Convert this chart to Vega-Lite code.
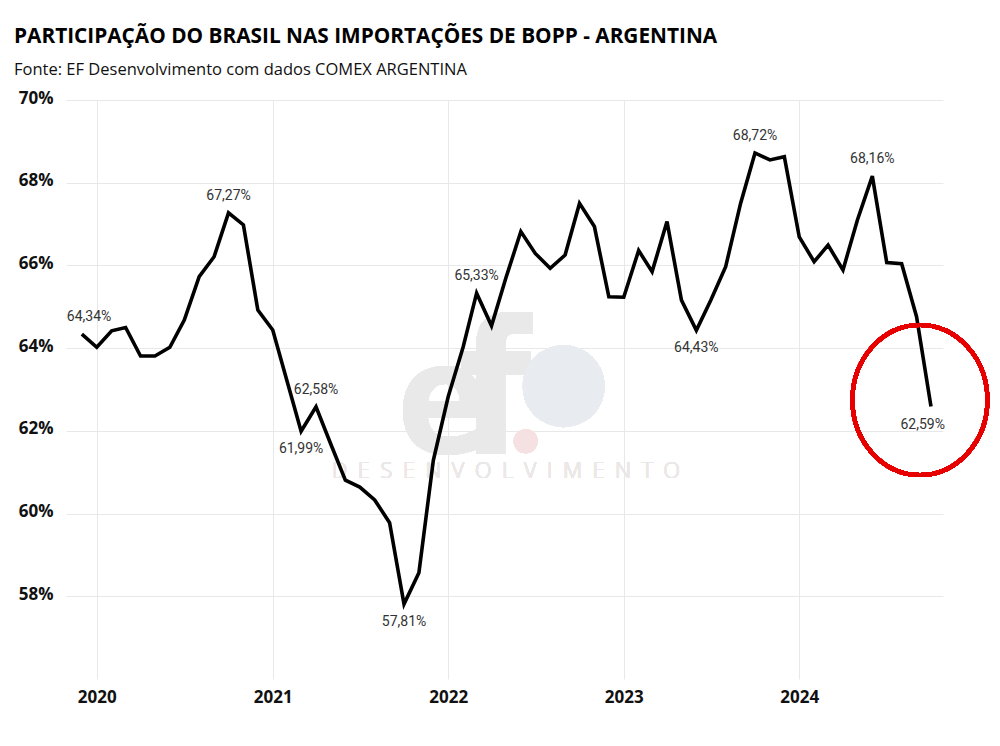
{
  "$schema": "https://vega.github.io/schema/vega-lite/v6.json",
  "width": 877,
  "height": 579,
  "autosize": "none",
  "padding": {"left": 66, "top": 100, "right": 57, "bottom": 67},
  "background": "white",
  "title": {
    "text": "PARTICIPAÇÃO DO BRASIL NAS IMPORTAÇÕES DE BOPP - ARGENTINA",
    "subtitle": "Fonte: EF Desenvolvimento com dados COMEX ARGENTINA",
    "anchor": "start",
    "frame": "group",
    "dx": -52,
    "offset": 10,
    "font": "Open Sans",
    "fontSize": 20.8,
    "fontWeight": "bold",
    "color": "#000000",
    "subtitleFont": "Open Sans",
    "subtitleFontSize": 16.5,
    "subtitleColor": "#111111",
    "subtitlePadding": 14
  },
  "data": {
    "values": [
      {"date": "2019-12-01", "share": 64.34, "label": "64,34%", "pos": "first"},
      {"date": "2020-01-01", "share": 64.02},
      {"date": "2020-02-01", "share": 64.42},
      {"date": "2020-03-01", "share": 64.50},
      {"date": "2020-04-01", "share": 63.81},
      {"date": "2020-05-01", "share": 63.81},
      {"date": "2020-06-01", "share": 64.02},
      {"date": "2020-07-01", "share": 64.68},
      {"date": "2020-08-01", "share": 65.73},
      {"date": "2020-09-01", "share": 66.21},
      {"date": "2020-10-01", "share": 67.27, "label": "67,27%", "pos": "above"},
      {"date": "2020-11-01", "share": 66.98},
      {"date": "2020-12-01", "share": 64.92},
      {"date": "2021-01-01", "share": 64.44},
      {"date": "2021-02-01", "share": 63.15},
      {"date": "2021-03-01", "share": 61.99, "label": "61,99%", "pos": "below"},
      {"date": "2021-04-01", "share": 62.58, "label": "62,58%", "pos": "above"},
      {"date": "2021-05-01", "share": 61.70},
      {"date": "2021-06-01", "share": 60.81},
      {"date": "2021-07-01", "share": 60.64},
      {"date": "2021-08-01", "share": 60.33},
      {"date": "2021-09-01", "share": 59.78},
      {"date": "2021-10-01", "share": 57.81, "label": "57,81%", "pos": "below"},
      {"date": "2021-11-01", "share": 58.57},
      {"date": "2021-12-01", "share": 61.29},
      {"date": "2022-01-01", "share": 62.83},
      {"date": "2022-02-01", "share": 64.03},
      {"date": "2022-03-01", "share": 65.33, "label": "65,33%", "pos": "above"},
      {"date": "2022-04-01", "share": 64.54},
      {"date": "2022-05-01", "share": 65.70},
      {"date": "2022-06-01", "share": 66.82},
      {"date": "2022-07-01", "share": 66.29},
      {"date": "2022-08-01", "share": 65.93},
      {"date": "2022-09-01", "share": 66.25},
      {"date": "2022-10-01", "share": 67.50},
      {"date": "2022-11-01", "share": 66.94},
      {"date": "2022-12-01", "share": 65.24},
      {"date": "2023-01-01", "share": 65.23},
      {"date": "2023-02-01", "share": 66.36},
      {"date": "2023-03-01", "share": 65.85},
      {"date": "2023-04-01", "share": 67.06},
      {"date": "2023-05-01", "share": 65.16},
      {"date": "2023-06-01", "share": 64.43, "label": "64,43%", "pos": "below"},
      {"date": "2023-07-01", "share": 65.16},
      {"date": "2023-08-01", "share": 65.97},
      {"date": "2023-09-01", "share": 67.50},
      {"date": "2023-10-01", "share": 68.72, "label": "68,72%", "pos": "above"},
      {"date": "2023-11-01", "share": 68.55},
      {"date": "2023-12-01", "share": 68.63},
      {"date": "2024-01-01", "share": 66.69},
      {"date": "2024-02-01", "share": 66.09},
      {"date": "2024-03-01", "share": 66.49},
      {"date": "2024-04-01", "share": 65.89},
      {"date": "2024-05-01", "share": 67.10},
      {"date": "2024-06-01", "share": 68.16, "label": "68,16%", "pos": "above"},
      {"date": "2024-07-01", "share": 66.07},
      {"date": "2024-08-01", "share": 66.04},
      {"date": "2024-09-01", "share": 64.76},
      {"date": "2024-10-01", "share": 62.59, "label": "62,59%", "pos": "last"}
    ],
    "format": {"parse": {"date": "utc:'%Y-%m-%d'"}}
  },
  "encoding": {
    "x": {
      "field": "date",
      "type": "temporal",
      "title": null,
      "scale": {
        "type": "utc",
        "domain": [
          {"year": 2019, "month": 10, "date": 29, "utc": true},
          {"year": 2024, "month": 10, "date": 26, "utc": true}
        ]
      },
      "axis": {
        "format": "%Y",
        "tickCount": {"interval": "year", "step": 1},
        "domain": false,
        "ticks": false,
        "grid": true,
        "gridColor": "#e8e8e8",
        "gridWidth": 1,
        "labelFont": "Open Sans",
        "labelFontSize": 17,
        "labelFontWeight": "bold",
        "labelColor": "#111111",
        "labelPadding": 10,
        "labelFlush": false
      }
    },
    "y": {
      "field": "share",
      "type": "quantitative",
      "title": null,
      "scale": {"domain": [56, 70], "nice": false, "zero": false},
      "axis": {
        "values": [58, 60, 62, 64, 66, 68, 70],
        "labelExpr": "datum.value + '%'",
        "domain": false,
        "ticks": false,
        "grid": true,
        "gridColor": "#e8e8e8",
        "gridWidth": 1,
        "labelFont": "Open Sans",
        "labelFontSize": 17,
        "labelFontWeight": "bold",
        "labelColor": "#111111",
        "labelPadding": 13,
        "labelOffset": -2
      }
    }
  },
  "layer": [
    {
      "mark": {"type": "text", "text": "e", "font": "DejaVu Sans Condensed", "fontWeight": "bold", "fontSize": 155, "color": "#e9e9e9", "baseline": "alphabetic", "align": "center"},
      "encoding": {
        "x": {"datum": {"year": 2021, "month": 12, "date": 24, "utc": true}, "type": "temporal"},
        "y": {"datum": 61.46, "type": "quantitative"}
      }
    },
    {
      "mark": {"type": "text", "text": "f", "font": "DejaVu Sans Condensed", "fontWeight": "bold", "fontSize": 185, "color": "#e9e9e9", "baseline": "alphabetic", "align": "center"},
      "encoding": {
        "x": {"datum": {"year": 2022, "month": 4, "date": 8, "utc": true}, "type": "temporal"},
        "y": {"datum": 61.46, "type": "quantitative"}
      }
    },
    {
      "mark": {"type": "point", "shape": "circle", "filled": true, "size": 6724, "color": "#e8ecf0", "opacity": 1},
      "encoding": {
        "x": {"datum": {"year": 2022, "month": 8, "date": 29, "utc": true}, "type": "temporal"},
        "y": {"datum": 63.08, "type": "quantitative"}
      }
    },
    {
      "mark": {"type": "point", "shape": "circle", "filled": true, "size": 576, "color": "#f5e1e1", "opacity": 1},
      "encoding": {
        "x": {"datum": {"year": 2022, "month": 6, "date": 11, "utc": true}, "type": "temporal"},
        "y": {"datum": 61.75, "type": "quantitative"}
      }
    },
    {
      "mark": {"type": "text", "text": "D\u2002E\u2002S\u2002E\u2002N\u2002V\u2002O\u2002L\u2002V\u2002I\u2002M\u2002E\u2002N\u2002T\u2002O", "font": "Open Sans", "fontWeight": 300, "fontSize": 21.5, "color": "#ece8e8", "baseline": "middle", "align": "center"},
      "encoding": {
        "x": {"datum": {"year": 2022, "month": 5, "date": 1, "utc": true}, "type": "temporal"},
        "y": {"datum": 61.0, "type": "quantitative"}
      }
    },
    {
      "mark": {"type": "line", "color": "#000000", "strokeWidth": 3.6, "strokeJoin": "miter"}
    },
    {
      "transform": [{"filter": "datum.pos === 'above'"}],
      "mark": {"type": "text", "font": "Roboto", "fontSize": 14, "color": "#333333", "dy": -17, "align": "center", "baseline": "middle"},
      "encoding": {"text": {"field": "label"}}
    },
    {
      "transform": [{"filter": "datum.pos === 'below'"}],
      "mark": {"type": "text", "font": "Roboto", "fontSize": 14, "color": "#333333", "dy": 18, "align": "center", "baseline": "middle"},
      "encoding": {"text": {"field": "label"}}
    },
    {
      "transform": [{"filter": "datum.pos === 'first'"}],
      "mark": {"type": "text", "font": "Roboto", "fontSize": 14, "color": "#333333", "dy": -17, "dx": -15, "align": "left", "baseline": "middle"},
      "encoding": {"text": {"field": "label"}}
    },
    {
      "transform": [{"filter": "datum.pos === 'last'"}],
      "mark": {"type": "text", "font": "Roboto", "fontSize": 14, "color": "#333333", "dy": 19, "dx": 14, "align": "right", "baseline": "middle"},
      "encoding": {"text": {"field": "label"}}
    },
    {
      "mark": {"type": "point", "shape": "M -0.9 0 A 0.9 1 0 1 1 0.9 0 A 0.9 1 0 1 1 -0.9 0 Z", "filled": false, "size": 22500, "color": "#e60000", "strokeWidth": 4, "opacity": 1},
      "encoding": {
        "x": {"datum": {"year": 2024, "month": 9, "date": 8, "utc": true}, "type": "temporal"},
        "y": {"datum": 62.745, "type": "quantitative"}
      }
    }
  ],
  "config": {
    "view": {"stroke": null}
  }
}
